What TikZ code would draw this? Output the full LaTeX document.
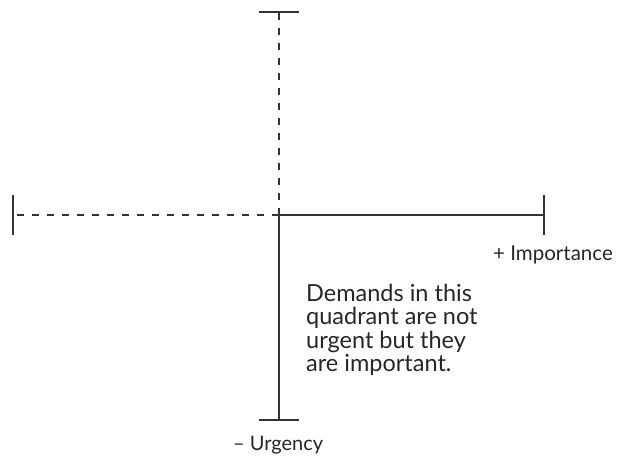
\documentclass[tikz,border=0pt]{standalone}
\usepackage{fontspec}
\setmainfont{Lato}
\begin{document}
\begin{tikzpicture}[x=1pt,y=-1pt,
  axis/.style={line width=1.3pt,draw=black!80},
  dashaxis/.style={axis,dash pattern=on 7pt off 8pt},
  lbl/.style={inner sep=0pt,text=black!85}]
\useasboundingbox (0,0) rectangle (617,455);
\coordinate (O) at (279,215);
\coordinate (T) at (279,12);
\coordinate (B) at (279,420);
\coordinate (L) at (13,215);
\coordinate (R) at (544,215);
\draw[dashaxis] (O) -- (T);
\draw[dashaxis] (O) -- (L);
\draw[axis] (O) -- (B);
\draw[axis] (O) -- (R);
\draw[axis] (259,12) -- (299,12);
\draw[axis] (259,420) -- (299,420);
\draw[axis] (13,195) -- (13,235);
\draw[axis] (544,195) -- (544,235);
\node[lbl,anchor=base west,font=\fontsize{20.5}{24}\selectfont] (imp) at (493,260) {+ Importance};
\node[lbl,anchor=base west,font=\fontsize{20}{24}\selectfont] (urg) at (233,450) {– Urgency};
\node[lbl,anchor=north west,align=left,font=\fontsize{23.5}{23.3}\selectfont] (txt) at (306,284) {Demands in this\\quadrant are not\\urgent but they\\are important.};
\end{tikzpicture}
\end{document}
